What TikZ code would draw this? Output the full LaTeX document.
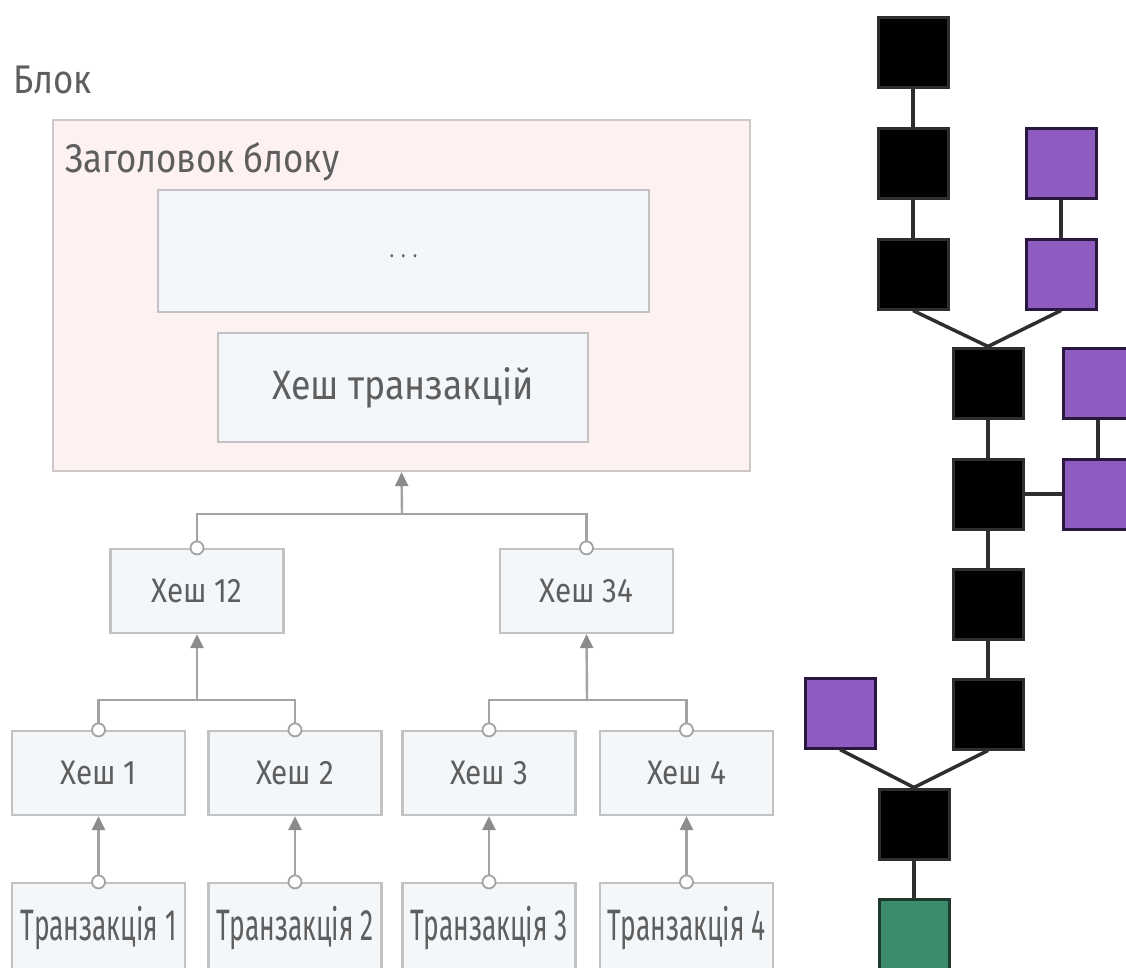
\documentclass[tikz,border=0pt]{standalone}
\usepackage{fontspec}
\setmainfont{Fira Sans}[FakeStretch=0.87]
\newfontfamily\txfont{Fira Sans}[FakeStretch=0.6]
\usetikzlibrary{arrows.meta}
\definecolor{txt}{HTML}{5E5E5E}
\definecolor{boxfill}{HTML}{F4F7FA}
\definecolor{boxline}{HTML}{C2C2C2}
\definecolor{blockfill}{HTML}{FDF1F1}
\definecolor{blockline}{HTML}{CEC8C8}
\definecolor{conn}{HTML}{A3A3A3}
\definecolor{arrowc}{HTML}{8C8C8C}
\definecolor{purp}{HTML}{8E5BC0}
\definecolor{purpline}{HTML}{2A1740}
\definecolor{grn}{HTML}{3A8C6C}
\definecolor{grnline}{HTML}{1E3A2E}
\definecolor{chain}{HTML}{2E2E2E}
\tikzset{
  hbox/.style={draw=boxline, fill=boxfill, line width=2.2pt, rectangle, inner sep=0pt,
    minimum width=173pt, minimum height=84pt, text=txt, font=\fontsize{34}{36}\selectfont},
  txbox/.style={hbox, minimum height=90pt, font=\txfont\fontsize{44}{48}\selectfont},
  conline/.style={draw=conn, line width=2.4pt},
  arr/.style={conline, -{Triangle[width=13pt,length=14pt,fill=arrowc,color=arrowc]}},
  opendot/.style={draw=conn, fill=white, line width=1.8pt},
  sq/.style={rectangle, minimum size=70pt, inner sep=0pt, line width=3pt},
  blk/.style={sq, draw=chain, fill=black},
  pur/.style={sq, draw=purpline, fill=purp},
  gr/.style={sq, draw=grnline, fill=grn},
  link/.style={draw=chain, line width=3.5pt},
  label/.style={text=txt, inner sep=0pt, anchor=base west}
}
\begin{document}
\begin{tikzpicture}[x=1pt,y=-1pt]
\useasboundingbox (0,0) rectangle (1126,967);
\clip (0,0) rectangle (1126,967);
\fill[white] (0,0) rectangle (1126,967);

% ---- left: block ----
\node[label, font=\fontsize{40}{44}\selectfont] (blok) at (13,93) {Блок};
\node[draw=blockline, fill=blockfill, line width=2.2pt, rectangle, inner sep=0pt,
      minimum width=697pt, minimum height=351pt] (outer) at (401.5,295.5) {};
\node[label, font=\fontsize{40}{44}\selectfont] (hdr) at (65,172) {Заголовок блоку};
\node[hbox, minimum width=491pt, minimum height=122pt, font=\fontsize{22}{24}\selectfont] (dots) at (403.5,251) {\raisebox{-14pt}{.\hspace{7pt}.\hspace{7pt}.}};
\node[hbox, minimum width=370pt, minimum height=109pt, font=\fontsize{41}{44}\selectfont] (root) at (403,387.5) {Хеш транзакцій};

\node[hbox] (h12) at (197,591) {Хеш 12};
\node[hbox] (h34) at (586.5,591) {Хеш 34};

\node[hbox] (h1) at (98.5,773) {Хеш 1};
\node[hbox] (h2) at (295,773) {Хеш 2};
\node[hbox] (h3) at (489,773) {Хеш 3};
\node[hbox] (h4) at (686.5,773) {Хеш 4};

\node[txbox] (t1) at (98.5,928) {Транзакція 1};
\node[txbox] (t2) at (295,928) {Транзакція 2};
\node[txbox] (t3) at (489,928) {Транзакція 3};
\node[txbox] (t4) at (686.5,928) {Транзакція 4};

\coordinate (jtop) at (402,514);
\coordinate (j12) at (197,700);
\coordinate (j34) at (587,700);

\draw[conline] (h12.north) |- (jtop) -| (h34.north);
\draw[arr] (jtop) -- (outer.south);
\draw[conline] (h1.north) |- (j12) -| (h2.north);
\draw[arr] (j12) -- (h12.south);
\draw[conline] (h3.north) |- (j34) -| (h4.north);
\draw[arr] (j34) -- (h34.south);
\foreach \i in {1,2,3,4}{
  \draw[arr] (t\i.north) -- (h\i.south);
  \draw[opendot] (t\i.north) circle (6.5pt);
  \draw[opendot] (h\i.north) circle (6.5pt);
}
\draw[opendot] (h12.north) circle (6.5pt);
\draw[opendot] (h34.north) circle (6.5pt);

% ---- right: chain ----
\node[blk] (a1) at (913,52) {};
\node[blk] (a2) at (913,163) {};
\node[blk] (a3) at (913,274) {};
\node[pur] (p1) at (1061,163) {};
\node[pur] (p2) at (1061,274) {};
\node[blk] (b1) at (988,383) {};
\node[blk] (b2) at (988,494) {};
\node[blk] (b3) at (988,604) {};
\node[blk] (b4) at (988,714) {};
\node[pur] (q1) at (1098,383) {};
\node[pur] (q2) at (1098,494) {};
\node[pur] (lp) at (840,713) {};
\node[blk] (lb) at (914,824) {};
\node[gr] (g) at (914,934) {};

\draw[link] (a1) -- (a2);
\draw[link] (a2) -- (a3);
\draw[link] (p1) -- (p2);
\draw[link] (a3.south) -- (b1.north);
\draw[link] (p2.south) -- (b1.north);
\draw[link] (b1) -- (b2);
\draw[link] (b2) -- (b3);
\draw[link] (b3) -- (b4);
\draw[link] (b2.east) -- (q2.west);
\draw[link] (q1) -- (q2);
\draw[link] (b4.south) -- (lb.north);
\draw[link] (lp.south) -- (lb.north);
\draw[link] (lb) -- (g);
\end{tikzpicture}
\end{document}
